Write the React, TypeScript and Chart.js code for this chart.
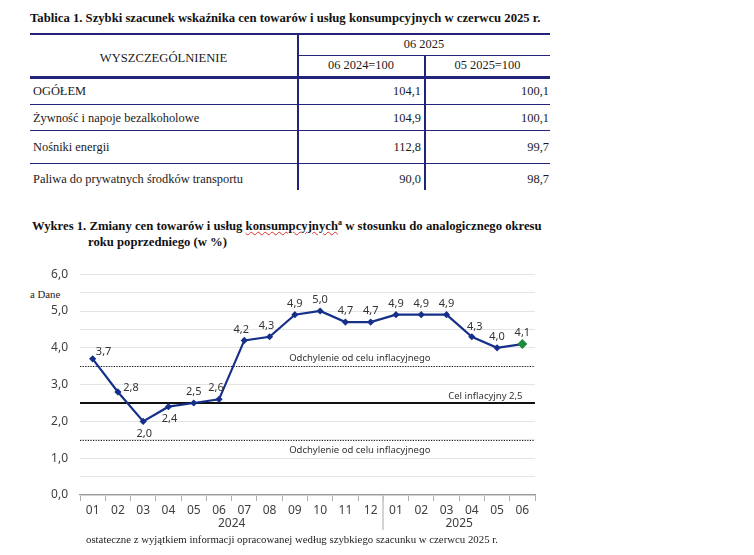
import React, { useEffect, useRef } from 'react';
import { Chart, registerables } from 'chart.js';

Chart.register(...registerables);

// ---------- data ----------
const monthLabels = ['01', '02', '03', '04', '05', '06', '07', '08', '09', '10', '11', '12', '01', '02', '03', '04', '05', '06'];
const yearLabels = ['2024', '2025'];
const yearSpans = [12, 6];
const cpiValues = [3.7, 2.8, 2.0, 2.4, 2.5, 2.6, 4.2, 4.3, 4.9, 5.0, 4.7, 4.7, 4.9, 4.9, 4.9, 4.3, 4.0, 4.1];
const labelPlacement = ['right-up', 'right', 'below', 'below', 'above', 'above-left', 'above-left', 'above-left', 'above', 'above', 'above', 'above', 'above', 'above', 'above', 'above-right', 'above', 'above'];
const yMin = 0;
const yMax = 6;
const yStep = 0.5;
const targetValue = 2.5;
const deviationValues = [3.5, 1.5];
const targetText = 'Cel inflacyjny 2,5';
const deviationText = 'Odchylenie od celu inflacyjnego';

const tableTitle = 'Tablica 1. Szybki szacunek wskaźnika cen towarów i usług konsumpcyjnych w czerwcu 2025 r.';
const tableHeadMain = 'WYSZCZEGÓLNIENIE';
const tableHeadPeriod = '06 2025';
const tableHeadCols = ['06 2024=100', '05 2025=100'];
const tableRowNames = ['OGÓŁEM', 'Żywność i napoje bezalkoholowe', 'Nośniki energii', 'Paliwa do prywatnych środków transportu'];
const tableYoY = ['104,1', '104,9', '112,8', '90,0'];
const tableMoM = ['100,1', '100,1', '99,7', '98,7'];

const fmt = (v: number) => v.toFixed(1).replace('.', ',');

// ---------- styles ----------
const NAVY = '#16308a';
const GREEN = '#1f8a3e';
const TABLE_LINE = '#23237a';
const SERIF = '"Liberation Serif", "Times New Roman", serif';
const SANS = '"Noto Sans", "Open Sans", sans-serif';

const overlayPlugin = {
  id: 'overlay',
  beforeDatasetsDraw(chart: any) {
    const { ctx, chartArea, scales } = chart;
    const y = scales.y;
    const x = scales.x;
    ctx.save();
    ctx.strokeStyle = '#1a1a1a';
    ctx.lineWidth = 1.2;
    ctx.setLineDash([1.2, 1.4]);
    deviationValues.forEach((v) => {
      const py = Math.round(y.getPixelForValue(v)) + 0.5;
      ctx.beginPath();
      ctx.moveTo(chartArea.left, py);
      ctx.lineTo(chartArea.right, py);
      ctx.stroke();
    });
    ctx.setLineDash([]);
    ctx.strokeStyle = '#111';
    ctx.lineWidth = 2;
    const ty = Math.round(y.getPixelForValue(targetValue));
    ctx.beginPath();
    ctx.moveTo(chartArea.left, ty);
    ctx.lineTo(chartArea.right, ty);
    ctx.stroke();
    ctx.fillStyle = '#333';
    ctx.font = `9.5px ${SANS}`;
    ctx.textBaseline = 'middle';
    const cx = chartArea.left + (chartArea.right - chartArea.left) * 0.615;
    ctx.textAlign = 'center';
    ctx.fillText(deviationText, cx, y.getPixelForValue(deviationValues[0]) - 8);
    ctx.fillText(deviationText, cx, y.getPixelForValue(deviationValues[1]) + 10);
    ctx.textAlign = 'right';
    ctx.fillText(targetText, x.getPixelForValue(monthLabels.length - 1), ty - 7);
    ctx.restore();
  },
  afterDraw(chart: any) {
    const { ctx, chartArea, scales } = chart;
    const x = scales.x;
    ctx.save();
    ctx.fillStyle = '#333';
    ctx.font = `11px ${SANS}`;
    ctx.textAlign = 'center';
    ctx.textBaseline = 'middle';
    const meta = chart.getDatasetMeta(0);
    meta.data.forEach((pt: any, i: number) => {
      const p = labelPlacement[i];
      let dx = 0;
      let dy = -11;
      if (p === 'right-up') { dx = 11; dy = -7; }
      else if (p === 'right') { dx = 13; dy = -4; }
      else if (p === 'below') { dx = 1; dy = 12; }
      else if (p === 'above-left') { dx = -3; dy = -11; }
      else if (p === 'above-right') { dx = 3; dy = -10; }
      ctx.fillText(fmt(cpiValues[i]), pt.x + dx, pt.y + dy);
    });
    ctx.strokeStyle = '#c4c4c4';
    ctx.lineWidth = 1.5;
    let start = 0;
    yearSpans.forEach((span, k) => {
      const first = x.getPixelForValue(start);
      const last = x.getPixelForValue(start + span - 1);
      if (k > 0) {
        const sx = Math.round((x.getPixelForValue(start - 1) + first) / 2);
        ctx.beginPath();
        ctx.moveTo(sx, chartArea.bottom);
        ctx.lineTo(sx, chartArea.bottom + 35);
        ctx.stroke();
      }
      ctx.fillStyle = '#404040';
      ctx.font = `12px ${SANS}`;
      ctx.fillText(yearLabels[k], (first + last) / 2, chartArea.bottom + 29);
      start += span;
    });
    ctx.restore();
  },
};

function CpiChart() {
  const ref = useRef<HTMLCanvasElement>(null);
  useEffect(() => {
    if (!ref.current) return;
    const last = cpiValues.length - 1;
    const chart = new Chart(ref.current, {
      type: 'line',
      data: {
        labels: monthLabels,
        datasets: [
          {
            data: cpiValues,
            borderColor: NAVY,
            borderWidth: 2.2,
            pointStyle: 'rectRot',
            pointRadius: (c: any) => (c.dataIndex === last ? 5 : 3.6),
            pointBackgroundColor: (c: any) => (c.dataIndex === last ? GREEN : NAVY),
            pointBorderColor: (c: any) => (c.dataIndex === last ? GREEN : NAVY),
            pointBorderWidth: 0,
            tension: 0,
          },
        ],
      },
      options: {
        animation: false,
        responsive: false,
        maintainAspectRatio: false,
        layout: { padding: { left: 0, right: 25, top: 17, bottom: 0 } },
        plugins: { legend: { display: false }, tooltip: { enabled: false }, title: { display: false } },
        scales: {
          x: {
            type: 'category',
            offset: true,
            grid: { display: true, offset: true, drawOnChartArea: false, drawTicks: true, tickLength: 6, color: '#b0b0b0' },
            border: { display: true, color: '#9a9a9a', width: 1.2 },
            ticks: { color: '#404040', font: { family: SANS, size: 12 }, padding: 2, maxRotation: 0, autoSkip: false },
            afterFit: (s: any) => { s.height = 60; },
          },
          y: {
            min: yMin,
            max: yMax,
            grid: { color: '#e4e4e4', drawTicks: false, lineWidth: 1 },
            border: { display: false },
            ticks: {
              stepSize: yStep,
              padding: 12,
              color: '#404040',
              font: { family: SANS, size: 12 },
              callback: (v: any) => (Math.abs(v - Math.round(v)) < 1e-9 ? fmt(Number(v)) : ''),
            },
            afterFit: (s: any) => { s.width = 80; },
          },
        },
      },
      plugins: [overlayPlugin],
    } as any);
    return () => chart.destroy();
  }, []);
  return <canvas ref={ref} width={560} height={300} style={{ position: 'absolute', left: 0, top: 255, width: 560, height: 300 }} />;
}

function Table() {
  const rowTops = [77, 104, 130, 163];
  const rowBottoms = [104, 130, 163, 190];
  const lineStyle = (l: number, t: number, w: number, h: number): React.CSSProperties => ({ position: 'absolute', left: l, top: t, width: w, height: h, background: TABLE_LINE });
  const text = (l: number, t: number, w: number, h: number, align: 'left' | 'center' | 'right'): React.CSSProperties => ({
    position: 'absolute', left: l, top: t, width: w, height: h, display: 'flex', alignItems: 'center',
    justifyContent: align === 'left' ? 'flex-start' : align === 'right' ? 'flex-end' : 'center',
    fontFamily: SERIF, fontSize: 12.4, color: '#1a1a1a', whiteSpace: 'nowrap',
  });
  return (
    <>
      <div style={{ position: 'absolute', left: 30, top: 9, fontFamily: SERIF, fontWeight: 'bold', fontSize: 12.7, color: '#111', whiteSpace: 'nowrap', lineHeight: '18px' }}>{tableTitle}</div>
      <div style={lineStyle(30, 33, 520, 1.5)} />
      <div style={lineStyle(297, 33, 1.5, 157)} />
      <div style={lineStyle(297, 55, 253, 1.2)} />
      <div style={lineStyle(424, 55, 1.5, 135)} />
      <div style={lineStyle(30, 76, 520, 3)} />
      <div style={{ ...text(30, 37, 267, 43, 'center'), fontSize: 12.6 }}>{tableHeadMain}</div>
      <div style={text(298, 34, 252, 21, 'center')}>{tableHeadPeriod}</div>
      <div style={text(298, 55, 126, 21, 'center')}>{tableHeadCols[0]}</div>
      <div style={text(425, 55, 125, 21, 'center')}>{tableHeadCols[1]}</div>
      {tableRowNames.map((name, i) => (
        <React.Fragment key={i}>
          {i < tableRowNames.length - 1 && <div style={lineStyle(30, rowBottoms[i], 520, 1.2)} />}
          <div style={text(33, rowTops[i] + 1, 260, rowBottoms[i] - rowTops[i] + (i === 3 ? 4 : 0), 'left')}>{name}</div>
          <div style={text(298, rowTops[i] + 1, 123, rowBottoms[i] - rowTops[i] + (i === 3 ? 4 : 0), 'right')}>{tableYoY[i]}</div>
          <div style={text(426, rowTops[i] + 1, 123, rowBottoms[i] - rowTops[i] + (i === 3 ? 4 : 0), 'right')}>{tableMoM[i]}</div>
        </React.Fragment>
      ))}
    </>
  );
}

export default function App() {
  return (
    <div style={{ position: 'absolute', left: 0, top: 0, width: 754, height: 555, background: '#fff', overflow: 'hidden' }}>
      <Table />
      <div style={{ position: 'absolute', left: 32, top: 218, fontFamily: SERIF, fontWeight: 'bold', fontSize: 12.7, color: '#111', lineHeight: '16px', whiteSpace: 'nowrap' }}>
        <div>
          Wykres 1. Zmiany cen towarów i usług{' '}
          <span style={{ textDecoration: 'underline wavy #e03030', textDecorationThickness: 1 }}>konsumpcyjnych</span>
          <sup style={{ fontSize: 8, lineHeight: 0 }}>a</sup> w stosunku do analogicznego okresu
        </div>
        <div style={{ paddingLeft: 56 }}>roku poprzedniego (w %)</div>
      </div>
      <div style={{ position: 'absolute', left: 30, top: 288, fontFamily: SERIF, fontSize: 10.8, color: '#222', whiteSpace: 'nowrap' }}>a Dane</div>
      <CpiChart />
      <div style={{ position: 'absolute', left: 86, top: 533, fontFamily: SERIF, fontSize: 10.8, color: '#222', whiteSpace: 'nowrap' }}>
        ostateczne z wyjątkiem informacji opracowanej według szybkiego szacunku w czerwcu 2025 r.
      </div>
    </div>
  );
}
